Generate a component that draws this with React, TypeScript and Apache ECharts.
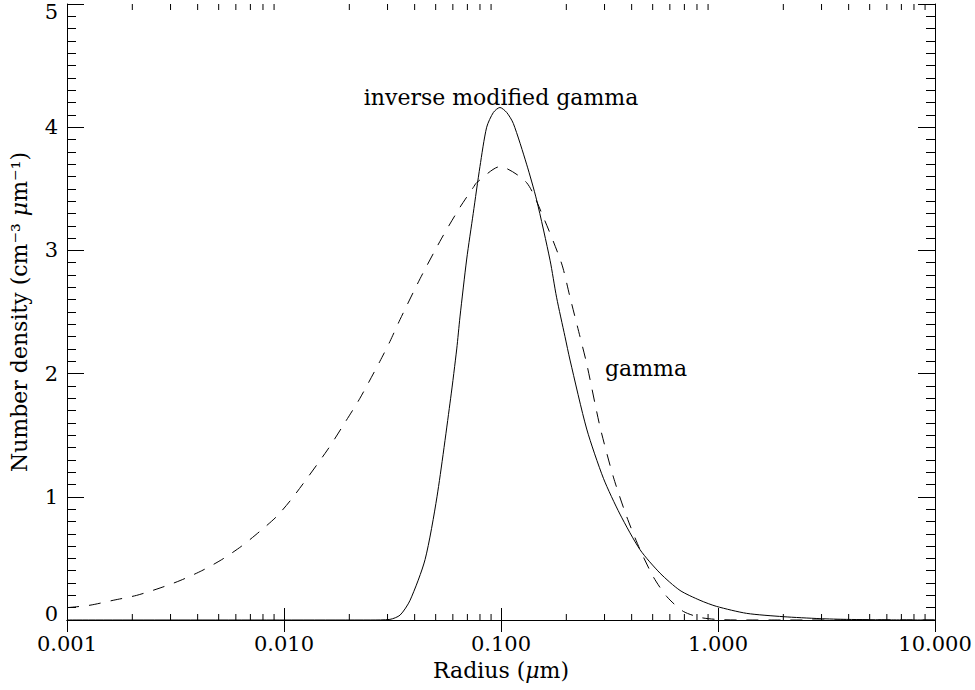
import React, { useEffect, useRef } from "react";
import * as echarts from "echarts";

// Gamma distribution (dashed)
const gammaR = [
  0.001, 0.001276, 0.001633, 0.002094, 0.002685, 0.003319, 0.004178, 0.005164,
  0.006383, 0.007745, 0.009247, 0.01104, 0.01585, 0.01905, 0.02239, 0.02767,
  0.03076, 0.03428, 0.04236, 0.05333, 0.06471, 0.07447, 0.07727, 0.09886,
  0.1312, 0.1567, 0.1905, 0.208, 0.2312, 0.2483, 0.2858, 0.3296, 0.3793,
  0.4375, 0.5035, 0.5808, 0.6918, 0.8318, 1.0, 1.259, 2.0, 5.0, 10.0,
];
const gammaN = [
  0.1, 0.12, 0.16, 0.2, 0.26, 0.32, 0.4, 0.49, 0.6, 0.72, 0.84, 1.0, 1.38, 1.6,
  1.8, 2.1, 2.26, 2.44, 2.77, 3.1, 3.35, 3.51, 3.55, 3.68, 3.55, 3.27, 2.89,
  2.62, 2.3, 2.08, 1.57, 1.16, 0.84, 0.57, 0.35, 0.19, 0.07, 0.02, 0.004, 0.0,
  0.0, 0.0, 0.0,
];

// Inverse modified gamma distribution (solid)
const invR = [
  0.001, 0.02512, 0.03076, 0.03428, 0.03811, 0.04467, 0.0507, 0.05861, 0.06252,
  0.06471, 0.0695, 0.07447, 0.07998, 0.0859, 0.09226, 0.09886, 0.1062, 0.114,
  0.1312, 0.1459, 0.1683, 0.1803, 0.1972, 0.208, 0.2483, 0.2965, 0.3532,
  0.4375, 0.5408, 0.6683, 0.826, 0.9863, 1.355, 2.0, 2.951, 3.917, 6.31, 10.0,
];
const invN = [
  0.0, 0.0, 0.005, 0.04, 0.16, 0.49, 1.0, 1.8, 2.2, 2.46, 2.93, 3.3, 3.68, 4.0,
  4.12, 4.16, 4.12, 4.03, 3.7, 3.41, 2.92, 2.62, 2.3, 2.11, 1.55, 1.15, 0.86,
  0.57, 0.38, 0.24, 0.16, 0.11, 0.054, 0.027, 0.011, 0.005, 0.001, 0.0,
];

const annText = ["inverse modified gamma", "gamma"];
const annR = [0.1, 0.466];
const annN = [4.24, 2.04];

const yTicks = [0, 1, 2, 3, 4, 5];
const decades = [0.001, 0.01, 0.1, 1];
const minorMult = [2, 3, 4, 5, 6, 7, 8, 9];

const FONT = "DejaVu Serif";
const TICK_FS = 21;
const NAME_FS = 22;

export default function App() {
  const ref = useRef<HTMLDivElement>(null);

  useEffect(() => {
    document.body.style.margin = "0";
    if (!ref.current) return;
    const chart = echarts.init(ref.current, null, { renderer: "svg" });

    const minorTicks: number[][] = [];
    decades.forEach((d) => minorMult.forEach((m) => minorTicks.push([d * m, 0])));

    const axisCommon = {
      axisLine: { show: true, lineStyle: { color: "#000", width: 1 } },
      splitLine: { show: false },
    };

    const option: any = {
      animation: false,
      backgroundColor: "#fff",
      grid: { left: 67, right: 40, top: 4, bottom: 70, containLabel: false },
      xAxis: [
        {
          type: "log",
          logBase: 10,
          min: 0.001,
          max: 10,
          position: "bottom",
          ...axisCommon,
          axisTick: { show: true, inside: true, length: 12, lineStyle: { color: "#000" } },
          axisLabel: {
            show: true,
            margin: 13,
            color: "#000",
            fontFamily: FONT,
            fontSize: TICK_FS,
            formatter: (v: number) => v.toFixed(3),
          },
          name: "Radius ({it|μ}m)",
          nameLocation: "middle",
          nameGap: 39,
          nameTextStyle: {
            color: "#000",
            fontFamily: FONT,
            fontSize: NAME_FS,
            rich: { it: { fontStyle: "italic", fontFamily: FONT, fontSize: NAME_FS, color: "#000" } },
          },
        },
        {
          type: "log",
          logBase: 10,
          min: 0.001,
          max: 10,
          position: "top",
          ...axisCommon,
          axisTick: { show: true, inside: true, length: 12, lineStyle: { color: "#000" } },
          axisLabel: { show: false },
        },
      ],
      yAxis: [
        {
          type: "value",
          min: 0,
          max: 5,
          interval: 1,
          position: "left",
          ...axisCommon,
          axisTick: { show: true, inside: true, length: 17, lineStyle: { color: "#000" } },
          minorTick: { show: true, splitNumber: 10, length: 9, lineStyle: { color: "#000" } },
          axisLabel: {
            show: true,
            margin: 9,
            color: "#000",
            fontFamily: FONT,
            fontSize: TICK_FS,
            formatter: (v: number) =>
              v === 0 ? "{lo|0}" : v === 5 ? "{hi|5}" : "{n|" + yTicks[v] + "}",
            rich: {
              lo: { fontFamily: FONT, fontSize: TICK_FS, color: "#000", padding: [0, 0, 13, 0] },
              hi: { fontFamily: FONT, fontSize: TICK_FS, color: "#000", padding: [16, 0, 0, 0] },
              n: { fontFamily: FONT, fontSize: TICK_FS, color: "#000" },
            },
          },
          name: "Number density (cm⁻³ {it|μ}m⁻¹)",
          nameLocation: "middle",
          nameGap: 37,
          nameRotate: 90,
          nameTextStyle: {
            color: "#000",
            fontFamily: FONT,
            fontSize: NAME_FS,
            rich: { it: { fontStyle: "italic", fontFamily: FONT, fontSize: NAME_FS, color: "#000" } },
          },
        },
        {
          type: "value",
          min: 0,
          max: 5,
          interval: 1,
          position: "right",
          ...axisCommon,
          axisTick: { show: true, inside: true, length: 17, lineStyle: { color: "#000" } },
          minorTick: { show: true, splitNumber: 10, length: 9, lineStyle: { color: "#000" } },
          axisLabel: { show: false },
        },
      ],
      series: [
        {
          name: "inverse modified gamma",
          type: "line",
          xAxisIndex: 0,
          yAxisIndex: 0,
          data: invR.map((r, i) => [r, invN[i]]),
          showSymbol: false,
          symbol: "none",
          smooth: 0.25,
          clip: true,
          lineStyle: { color: "#000", width: 1, type: "solid" },
          silent: true,
        },
        {
          name: "gamma",
          type: "line",
          xAxisIndex: 0,
          yAxisIndex: 0,
          data: gammaR.map((r, i) => [r, gammaN[i]]),
          showSymbol: false,
          symbol: "none",
          smooth: 0.25,
          clip: true,
          lineStyle: { color: "#000", width: 1, type: [12, 10] },
          silent: true,
        },
        {
          name: "minor x ticks",
          type: "custom",
          xAxisIndex: 0,
          yAxisIndex: 0,
          data: minorTicks,
          silent: true,
          clip: false,
          renderItem: (params: any, api: any) => {
            const r = api.value(0);
            const pb = api.coord([r, 0]);
            const pt = api.coord([r, 5]);
            return {
              type: "group",
              children: [
                {
                  type: "line",
                  shape: { x1: pb[0], y1: pb[1], x2: pb[0], y2: pb[1] - 6 },
                  style: { stroke: "#000", lineWidth: 1 },
                },
                {
                  type: "line",
                  shape: { x1: pt[0], y1: pt[1], x2: pt[0], y2: pt[1] + 6 },
                  style: { stroke: "#000", lineWidth: 1 },
                },
              ],
            };
          },
        },
        {
          name: "annotations",
          type: "scatter",
          xAxisIndex: 0,
          yAxisIndex: 0,
          symbolSize: 0,
          silent: true,
          itemStyle: { opacity: 1 },
          data: annR.map((r, i) => [r, annN[i]]),
          label: {
            show: true,
            position: "inside",
            color: "#000",
            opacity: 1,
            fontFamily: FONT,
            fontSize: NAME_FS,
            formatter: (p: any) => annText[p.dataIndex],
          },
        },
      ],
    };

    chart.setOption(option);
    return () => chart.dispose();
  }, []);

  return <div ref={ref} style={{ width: 975, height: 690 }} />;
}
